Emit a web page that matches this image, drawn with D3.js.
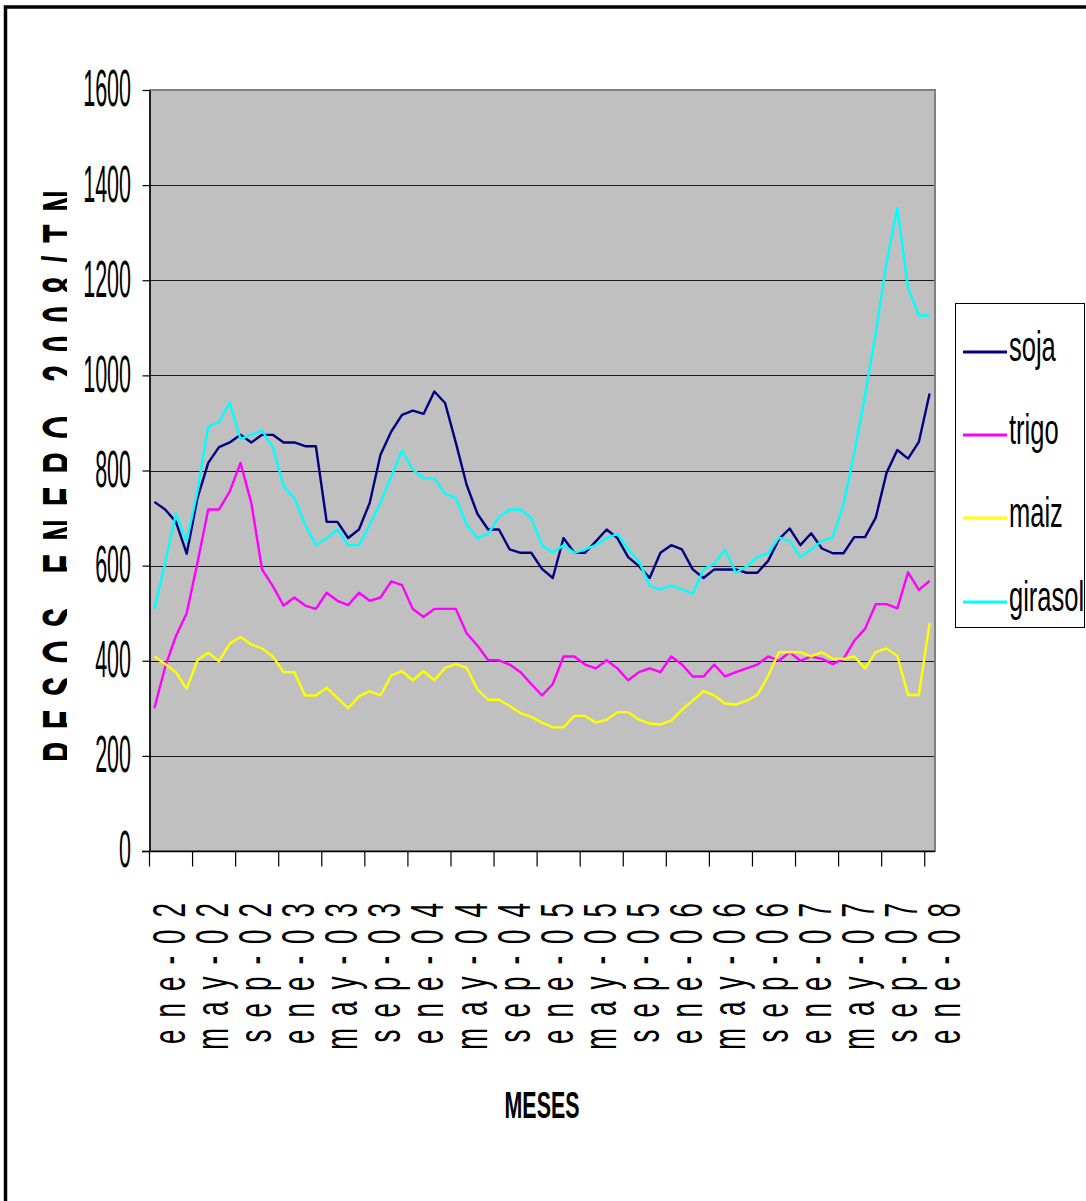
<!DOCTYPE html>
<html>
<head>
<meta charset="utf-8">
<script src="https://cdn.jsdelivr.net/npm/d3@7"></script>
<style>
  html, body { margin: 0; padding: 0; background: #fff; }
  svg { display: block; }
</style>
</head>
<body>
<script>
// Monthly categories: ene-02 .. ene-08 (73 months)
const monthNames = ["ene","feb","mar","abr","may","jun","jul","ago","sep","oct","nov","dic"];
const years = ["02","03","04","05","06","07","08"];
const categories = [];
years.forEach(yr => monthNames.forEach(m => categories.push(m + "-" + yr)));
categories.length = 73;

const tickLabels = ["ene-02","may-02","sep-02","ene-03","may-03","sep-03","ene-04","may-04","sep-04",
  "ene-05","may-05","sep-05","ene-06","may-06","sep-06","ene-07","may-07","sep-07","ene-08"];
const yTicks = [0, 200, 400, 600, 800, 1000, 1200, 1400, 1600];

const soja = [734,718,692,625,742,816,849,859,875,859,875,875,859,859,851,851,692,692,658,676,
  732,833,882,917,926,919,966,942,858,770,709,676,676,634,627,627,593,574,658,627,
  627,651,676,658,618,599,574,627,643,634,592,574,592,592,592,585,585,610,655,678,
  643,668,636,626,626,660,660,701,795,843,825,860,962];
const trigo = [300,387,452,500,606,718,718,756,816,732,592,557,516,533,516,509,543,526,517,543,
  526,533,567,559,509,492,509,509,509,458,432,401,401,392,376,351,327,351,409,409,
  392,384,401,384,359,376,384,376,409,392,367,367,392,367,376,384,392,409,400,418,
  400,409,404,393,404,442,467,519,519,510,586,549,568];
const maiz = [409,393,376,341,401,417,399,436,450,434,426,409,376,376,327,327,343,322,300,325,
  336,327,369,378,359,378,359,385,393,385,340,318,318,305,290,282,270,260,260,284,
  284,270,276,292,292,276,268,266,274,297,316,336,327,310,308,316,328,368,418,418,
  418,409,418,404,404,409,384,418,426,410,328,328,479];
const girasol = [508,606,709,651,756,893,901,943,866,875,884,849,767,742,686,643,658,676,643,643,
  686,732,788,842,802,784,784,751,742,686,658,667,702,718,718,700,643,627,643,627,
  634,643,658,667,634,609,558,550,558,550,541,592,604,634,585,598,618,626,659,652,
  618,634,652,659,729,837,957,1090,1237,1352,1184,1126,1126];

const seriesNames = ["soja", "trigo", "maiz", "girasol"];
const seriesValues = [soja, trigo, maiz, girasol];
const seriesColors = ["#000080", "#ff00ff", "#ffff00", "#00ffff"];

const W = 1086, H = 1201;
const plot = { left: 149, right: 935, top: 90, bottom: 851 };
const FONT = "'Liberation Sans', Arial, sans-serif";

const svg = d3.select("body").append("svg").attr("width", W).attr("height", H);

// outer frame (top and left edges fall inside the view)
svg.append("rect").attr("x", 5.5).attr("y", 7).attr("width", W + 40).attr("height", H + 40)
  .attr("fill", "#fff").attr("stroke", "#000").attr("stroke-width", 3.5);

const x = d3.scaleLinear().domain([0, categories.length]).range([plot.left, plot.right]);
const y = d3.scaleLinear().domain([0, 1600]).range([plot.bottom, plot.top]);

// plot area
svg.append("rect")
  .attr("x", plot.left + 1).attr("y", plot.top)
  .attr("width", plot.right - plot.left - 1).attr("height", plot.bottom - plot.top)
  .attr("fill", "#c0c0c0").attr("stroke", "#808080").attr("stroke-width", 2);

// horizontal gridlines
svg.append("g").selectAll("line")
  .data(yTicks.filter(v => v > 0 && v < 1600))
  .join("line")
  .attr("x1", plot.left).attr("x2", plot.right - 1)
  .attr("y1", d => Math.round(y(d)) + 0.5).attr("y2", d => Math.round(y(d)) + 0.5)
  .attr("stroke", "#1a1a1a").attr("stroke-width", 1.2);

// series lines
const line = d3.line()
  .x((d, i) => x(i + 0.5))
  .y(d => y(d));

svg.append("g").selectAll("path")
  .data(seriesValues)
  .join("path")
  .attr("d", d => line(d))
  .attr("fill", "none")
  .attr("stroke", (d, i) => seriesColors[i])
  .attr("stroke-width", 2.4)
  .attr("stroke-linejoin", "round");

// y axis
const yAxis = svg.append("g")
  .attr("transform", `translate(${plot.left + 0.5},0)`)
  .call(d3.axisLeft(y).tickValues(yTicks).tickSize(7).tickSizeOuter(0).tickFormat(""));
yAxis.select(".domain").attr("stroke", "#000").attr("stroke-width", 1.5);
yAxis.selectAll(".tick line").attr("stroke", "#000").attr("stroke-width", 1.2);

svg.append("g").selectAll("text")
  .data(yTicks)
  .join("text")
  .attr("transform", d => `translate(131,${y(d) - 2}) scale(1,2.4)`)
  .attr("text-anchor", "end")
  .attr("dy", "0.358em")
  .attr("font-family", FONT)
  .attr("font-size", 21.5)
  .attr("fill", "#000")
  .text(d => d);

// x axis
const xAxis = svg.append("g")
  .attr("transform", `translate(0,${plot.bottom + 0.5})`)
  .call(d3.axisBottom(x).tickValues(d3.range(0, categories.length, 4)).tickSize(15).tickSizeOuter(0).tickFormat(""));
xAxis.select(".domain").attr("stroke", "#000").attr("stroke-width", 1.5)
  .attr("d", `M${plot.left - 7},0H${plot.right}`);
xAxis.selectAll(".tick line").attr("stroke", "#000").attr("stroke-width", 1.2);

svg.append("g").selectAll("text")
  .data(tickLabels)
  .join("text")
  .attr("transform", (d, k) => `translate(${x(4 * k + 2) - 2},891) rotate(-90) scale(1,1.77)`)
  .attr("text-anchor", "end")
  .attr("dy", "0.358em")
  .attr("font-family", FONT)
  .attr("font-size", 26)
  .attr("letter-spacing", 12)
  .attr("fill", "#000")
  .text(d => d);

// axis titles
svg.append("text")
  .attr("transform", "translate(542,1118) scale(1,1.76)")
  .attr("text-anchor", "middle")
  .attr("font-family", FONT)
  .attr("font-weight", "bold")
  .attr("font-size", 21.4)
  .attr("fill", "#000")
  .text("MESES");

svg.append("clipPath").attr("id", "ytitle-clip")
  .append("rect").attr("x", 0).attr("y", 0).attr("width", 67).attr("height", H);

const titleScale = 1.9, titleSize = 30;
svg.append("g").attr("clip-path", "url(#ytitle-clip)")
  .append("text")
  .attr("transform", `translate(${42 + titleScale * 0.716 * titleSize},476) rotate(-90) scale(1,${titleScale})`)
  .attr("text-anchor", "middle")
  .attr("font-family", FONT)
  .attr("font-weight", "bold")
  .attr("font-size", titleSize)
  .attr("textLength", 572)
  .attr("lengthAdjust", "spacing")
  .attr("fill", "#000")
  .text("PESOS ENERO 2008/TN");

// legend
const legend = svg.append("g");
legend.append("rect")
  .attr("x", 955.5).attr("y", 303.5).attr("width", 129).attr("height", 324)
  .attr("fill", "#fff").attr("stroke", "#000").attr("stroke-width", 1);
const legendY = [352, 435, 518, 602];
const items = legend.selectAll("g.item")
  .data(seriesNames)
  .join("g").attr("class", "item");
items.append("line")
  .attr("x1", 963).attr("x2", 1007)
  .attr("y1", (d, i) => legendY[i]).attr("y2", (d, i) => legendY[i])
  .attr("stroke", (d, i) => seriesColors[i]).attr("stroke-width", 3);
items.append("text")
  .attr("transform", (d, i) => `translate(1009,${legendY[i] + 9}) scale(1,1.65)`)
  .attr("font-family", FONT)
  .attr("font-size", 25.5)
  .attr("fill", "#000")
  .text(d => d);
</script>
</body>
</html>
